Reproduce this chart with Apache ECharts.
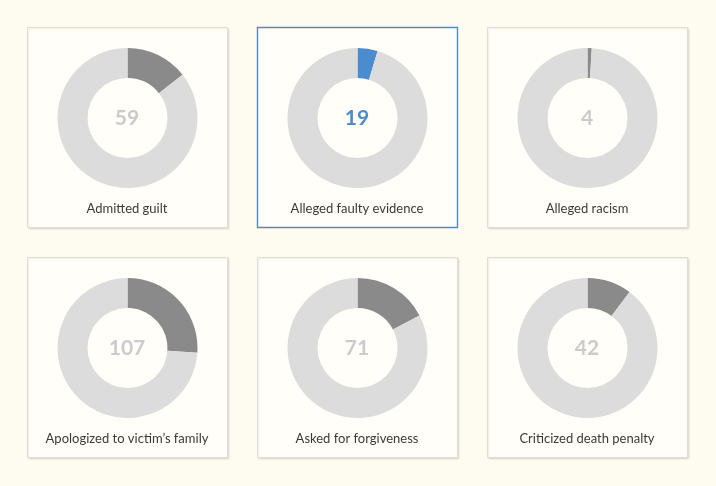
<!DOCTYPE html>
<html>
<head>
<meta charset="utf-8">
<script src="https://cdn.jsdelivr.net/npm/echarts@6/dist/echarts.min.js"></script>
<style>
html,body{margin:0;padding:0;background:#fefcf0;}
#c{width:716px;height:486px;}
</style>
</head>
<body>
<div id="c"></div>
<script>
const categories = ['Admitted guilt','Alleged faulty evidence','Alleged racism','Apologized to victim\u2019s family','Asked for forgiveness','Criticized death penalty'];
const values = [59, 19, 4, 107, 71, 42];
const others = [351, 391, 406, 303, 339, 368];
const selectedIndex = 1;

const chart = echarts.init(document.getElementById('c'), null, {renderer:'canvas'});
const cardW = 200, cardH = 200, gap = 30, x0 = 27, y0 = 27;
const FONT = 'Lato, "Open Sans", sans-serif';
const BLUE = '#4a8ccd';
const graphics = [];
const series = [];
categories.forEach((name, i) => {
  const col = i % 3, row = Math.floor(i / 3);
  const x = x0 + col * (cardW + gap), y = y0 + row * (cardH + gap);
  const sel = i === selectedIndex;
  graphics.push({
    type:'rect', z:0,
    shape:{x:x+0.5, y:y+0.5, width:cardW, height:cardH},
    style:{fill:'#fffef8', stroke: sel ? BLUE : '#e0ddd2', lineWidth: sel ? 1.4 : 1,
      shadowColor: sel ? 'transparent' : 'rgba(0,0,0,0.10)', shadowBlur: sel ? 0 : 2, shadowOffsetX:1, shadowOffsetY:1}
  });
  graphics.push({
    type:'text', z:10,
    x: x + cardW/2, y: y + 91,
    style:{text:String(values[i]), fill: sel ? BLUE : '#cbcbcb', font:'bold 21px ' + FONT, align:'center', verticalAlign:'middle'}
  });
  graphics.push({
    type:'text', z:10,
    x: x + cardW/2, y: y + 182,
    style:{text:name, fill:'#3a3a3a', font:'13px ' + FONT, align:'center', verticalAlign:'middle'}
  });
  series.push({
    type:'pie', z:5,
    center:[x + cardW/2 + 0.5, y + 91],
    radius:[40, 70],
    startAngle:90, clockwise:true,
    silent:true, animation:false,
    label:{show:false}, labelLine:{show:false},
    data:[
      {value:values[i], name:name, itemStyle:{color: sel ? BLUE : '#8a8a8a'}},
      {value:others[i], name:'other', itemStyle:{color:'#dcdcdc'}}
    ]
  });
});

chart.setOption({
  backgroundColor:'#fefcf0',
  animation:false,
  graphic:graphics,
  series:series
});
</script>
</body>
</html>
